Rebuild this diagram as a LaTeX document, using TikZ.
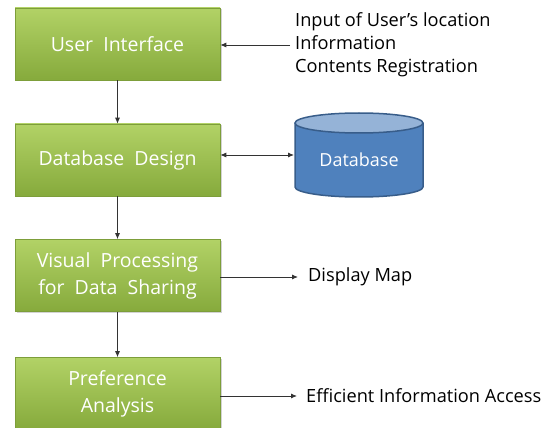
\documentclass[tikz,border=0pt]{standalone}
\usepackage{fontspec}
\setmainfont{Open Sans}
\usetikzlibrary{arrows.meta,shadows}
\definecolor{gtop}{HTML}{B2D266}
\definecolor{gbot}{HTML}{86AA3C}
\definecolor{gborder}{HTML}{7D9E3A}
\definecolor{dbfill}{HTML}{4F81BD}
\definecolor{dbtop}{HTML}{95B3D7}
\definecolor{dbborder}{HTML}{385D8A}
\tikzset{
  gbox/.style={rectangle, minimum width=205pt, minimum height=72pt, top color=gtop, bottom color=gbot,
    draw=gborder, line width=0.6pt, text=white, align=center, inner sep=0pt,
    font=\fontsize{19.5}{27}\selectfont, drop shadow={shadow xshift=1.5pt, shadow yshift=-1.5pt, opacity=0.35}},
  conn/.style={draw=black!80, line width=0.9pt, -{Latex[length=6pt,width=5pt]}},
  side/.style={anchor=west, align=left, inner sep=0pt, font=\fontsize{18.2}{23}\selectfont, text=black}
}
\begin{document}
\begin{tikzpicture}[x=1pt,y=1pt]
\useasboundingbox (0,0) rectangle (550,-428);
\node[gbox] (ui) at (117.5,-44) {User\ \ Interface};
\node[gbox] (dbd) at (117.5,-160) {Database\ \ Design};
\node[gbox] (vp) at (117.5,-275.5) {Visual\ \ Processing\\for\ \ Data\ \ Sharing};
\node[gbox] (pa) at (117.5,-393.5) {Preference\\Analysis};
% cylinder
\fill[dbfill] (295,-123) -- (295,-187) arc[start angle=180,end angle=360,x radius=64,y radius=10] -- (423,-123) -- cycle;
\fill[dbtop] (359,-123) ellipse[x radius=64,y radius=10];
\draw[dbborder, line width=1.5pt] (295,-123) -- (295,-187) arc[start angle=180,end angle=360,x radius=64,y radius=10] -- (423,-123);
\draw[dbborder, line width=1.5pt] (359,-123) ellipse[x radius=64,y radius=10];
\node[text=white, font=\fontsize{18}{20}\selectfont] (db) at (359,-160) {Database};
\coordinate (dbl) at (294,-155);
% texts
\node[side] (t1) at (295,-45) {Input of User’s location\\Information\\Contents Registration};
\node[side] (t3) at (308,-277) {Display Map};
\node[side] (t4) at (306,-396) {Efficient Information Access};
\coordinate (a1) at (290,-45);
\coordinate (a3) at (298,-277);
\coordinate (a4) at (297,-396);
% connectors
\draw[conn] (ui.south) -- (dbd.north);
\draw[conn] (dbd.south) -- (vp.north);
\draw[conn] (vp.south) -- (pa.north);
\draw[conn] (a1) -- (ui.east |- a1);
\draw[conn, {Latex[length=6pt,width=5pt]}-{Latex[length=6pt,width=5pt]}] (dbd.east |- dbl) -- (dbl);
\draw[conn] (vp.east |- a3) -- (a3);
\draw[conn] (pa.east |- a4) -- (a4);
\end{tikzpicture}
\end{document}
